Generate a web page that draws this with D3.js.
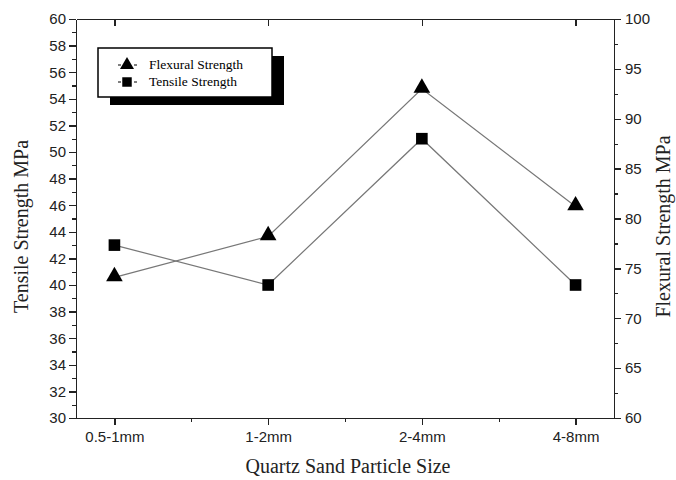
<!DOCTYPE html>
<html lang="en">
    <head>
        <meta charset="utf-8">
        <title>Quartz sand strength</title>
        <script type="text/javascript" src="https://cdn.jsdelivr.net/npm/d3@7/dist/d3.min.js"></script>
        <style type="text/css">
        body { margin: 0; background: #fff; }
        .axis path,
        .axis line {
            fill: none;
            stroke: #222;
            stroke-width: 1.3;
            shape-rendering: crispEdges;
        }
        .axis text {
            font-family: "Liberation Sans", Arial, sans-serif;
            font-size: 15px;
            fill: #222;
        }
        .title {
            font-family: "Liberation Serif", "Times New Roman", serif;
            font-size: 20px;
            fill: #222;
        }
        .serie {
            fill: none;
            stroke: #777;
            stroke-width: 1.2;
        }
        </style>
    </head>
    <body>
        <script>
                var w = 676;
                var h = 480;
                var pL = 76, pR = 614, pT = 19, pB = 418;

                var sizes = ["0.5-1mm", "1-2mm", "2-4mm", "4-8mm"];
                var tensile = [43.0, 40.0, 51.0, 40.0];
                var flexural = [74.1, 78.2, 93.0, 81.2];
                var tensileTicks = d3.range(30, 61, 2);
                var flexuralTicks = d3.range(60, 101, 5);

                var xScale = d3.scaleLinear()
                  .domain([-0.25, sizes.length - 0.75])
                  .range([pL, pR]);

                var yLeft = d3.scaleLinear()
                  .domain([30, 60])
                  .range([pB, pT]);

                var yRight = d3.scaleLinear()
                  .domain([60, 100])
                  .range([pB, pT]);

                var svg = d3.select("body")
                  .append("svg")
                  .attr("width", w)
                  .attr("height", h);

                // minor ticks first, then the main axes on top
                svg.append("g")
                  .attr("class", "axis")
                  .attr("transform", "translate(0," + pB + ")")
                  .call(d3.axisBottom(xScale).tickValues(d3.range(0.5, sizes.length - 1, 1)).tickSize(4).tickSizeOuter(0).tickFormat(""));

                svg.append("g")
                  .attr("class", "axis")
                  .attr("transform", "translate(0," + pB + ")")
                  .call(d3.axisBottom(xScale).tickValues(d3.range(sizes.length)).tickSize(7).tickSizeOuter(0).tickPadding(6)
                    .tickFormat(function(d) { return sizes[d]; }));

                svg.append("g")
                  .attr("class", "axis")
                  .attr("transform", "translate(0," + pT + ")")
                  .call(d3.axisBottom(xScale).tickValues(d3.range(sizes.length)).tickSize(7).tickSizeOuter(0).tickFormat(""));

                svg.append("g")
                  .attr("class", "axis")
                  .attr("transform", "translate(" + pL + ",0)")
                  .call(d3.axisLeft(yLeft).tickValues(d3.range(31, 60, 2)).tickSize(4).tickSizeOuter(0).tickFormat(""));

                svg.append("g")
                  .attr("class", "axis")
                  .attr("transform", "translate(" + pL + ",0)")
                  .call(d3.axisLeft(yLeft).tickValues(tensileTicks).tickSize(7).tickSizeOuter(0).tickPadding(3));

                svg.append("g")
                  .attr("class", "axis")
                  .attr("transform", "translate(" + pR + ",0)")
                  .call(d3.axisRight(yRight).tickValues(d3.range(62.5, 100, 5)).tickSize(4).tickSizeOuter(0).tickFormat(""));

                svg.append("g")
                  .attr("class", "axis")
                  .attr("transform", "translate(" + pR + ",0)")
                  .call(d3.axisRight(yRight).tickValues(flexuralTicks).tickSize(7).tickSizeOuter(0).tickPadding(4));

                // lines
                var lineT = d3.line()
                  .x(function(d, i) { return xScale(i); })
                  .y(function(d) { return yLeft(d); });
                var lineF = d3.line()
                  .x(function(d, i) { return xScale(i); })
                  .y(function(d) { return yRight(d); });

                svg.append("path").attr("class", "serie").attr("d", lineF(flexural));
                svg.append("path").attr("class", "serie").attr("d", lineT(tensile));

                var tri = d3.symbol().type(d3.symbolTriangle).size(120);
                var sq = d3.symbol().type(d3.symbolSquare).size(135);
                var triSmall = d3.symbol().type(d3.symbolTriangle).size(85);
                var sqSmall = d3.symbol().type(d3.symbolSquare).size(90);

                svg.selectAll(".tri")
                  .data(flexural)
                  .enter().append("path")
                  .attr("class", "tri")
                  .attr("d", tri)
                  .attr("fill", "#000")
                  .attr("transform", function(d, i) { return "translate(" + xScale(i) + "," + (yRight(d) - 1) + ")"; });

                svg.selectAll(".sq")
                  .data(tensile)
                  .enter().append("path")
                  .attr("class", "sq")
                  .attr("d", sq)
                  .attr("fill", "#000")
                  .attr("transform", function(d, i) { return "translate(" + xScale(i) + "," + yLeft(d) + ")"; });

                // legend
                var lg = svg.append("g").attr("transform", "translate(98,48)");
                lg.append("rect").attr("x", 12).attr("y", 8).attr("width", 174).attr("height", 49).attr("fill", "#000");
                lg.append("rect").attr("x", 0).attr("y", 0).attr("width", 174).attr("height", 49)
                  .attr("fill", "#fff").attr("stroke", "#000").attr("stroke-width", 1.5);

                var legendItems = [
                  { name: "Flexural Strength", sym: triSmall, dy: 17 },
                  { name: "Tensile Strength", sym: sqSmall, dy: 34 }
                ];
                legendItems.forEach(function(it) {
                  lg.append("line").attr("x1", 20).attr("x2", 39).attr("y1", it.dy).attr("y2", it.dy)
                    .attr("stroke", "#000").attr("stroke-width", 1).attr("stroke-dasharray", "3,13");
                  lg.append("path").attr("d", it.sym())
                    .attr("transform", "translate(29," + it.dy + ")");
                  lg.append("text").attr("x", 51).attr("y", it.dy + 4)
                    .attr("font-family", "'Liberation Serif', 'Times New Roman', serif")
                    .attr("font-size", 13.5).text(it.name);
                });

                // axis titles
                svg.append("text").attr("class", "title")
                  .attr("text-anchor", "middle")
                  .attr("x", (pL + pR) / 2 + 3)
                  .attr("y", 473)
                  .text("Quartz Sand Particle Size");

                svg.append("text").attr("class", "title")
                  .attr("text-anchor", "middle")
                  .attr("transform", "translate(28," + ((pT + pB) / 2 + 8) + ") rotate(-90)")
                  .text("Tensile Strength MPa");

                svg.append("text").attr("class", "title")
                  .attr("text-anchor", "middle")
                  .attr("transform", "translate(670," + ((pT + pB) / 2 + 8) + ") rotate(-90)")
                  .text("Flexural Strength MPa");
            </script>
    </body>
</html>
